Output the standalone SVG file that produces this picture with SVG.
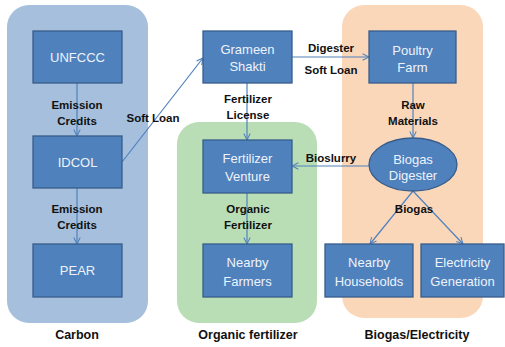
<svg xmlns="http://www.w3.org/2000/svg" width="505" height="347" viewBox="0 0 505 347">
  <defs>
    <marker id="arrow" viewBox="0 0 10 10" refX="9" refY="5" markerWidth="8" markerHeight="8" orient="auto" markerUnits="userSpaceOnUse">
      <path d="M1,1 L9,5 L1,9" fill="none" stroke="#4F81BD" stroke-width="1.3"/>
    </marker>
    <style>
      .node rect, .node ellipse { fill: #4F81BD; stroke: #385D8A; stroke-width: 1.3; }
      .node text { font-family: "Liberation Sans", Arial, sans-serif; font-size: 13px; fill: #EEF3FA; text-anchor: middle; }
      .lbl { font-family: "Liberation Sans", Arial, sans-serif; font-size: 11.5px; font-weight: bold; fill: #111; text-anchor: middle; }
      .panel-title { font-family: "Liberation Sans", Arial, sans-serif; font-size: 12.5px; font-weight: bold; fill: #111; text-anchor: middle; }
      .conn line { stroke: #4F81BD; stroke-width: 1.2; marker-end: url(#arrow); }
    </style>
  </defs>
  <rect width="505" height="347" fill="#ffffff"/>

  <!-- background panels -->
  <g id="panel-carbon">
    <rect x="7" y="5" width="141" height="318" rx="22" fill="#A5BFDD"/>
    <text class="panel-title" x="77" y="339">Carbon</text>
  </g>
  <g id="panel-organic">
    <rect x="177" y="122" width="140" height="201" rx="22" fill="#B9DEB5"/>
    <text class="panel-title" x="248" y="339" font-size="11.5">Organic fertilizer</text>
  </g>
  <g id="panel-biogas">
    <rect x="342" y="5" width="141" height="313" rx="22" fill="#FBD7BA"/>
    <text class="panel-title" x="417" y="339" font-size="11.5">Biogas/Electricity</text>
  </g>

  <!-- connectors -->
  <g id="connectors" class="conn">
    <line x1="77" y1="83" x2="77" y2="136"/>
    <line x1="77" y1="188" x2="77" y2="244"/>
    <line x1="122" y1="162" x2="203" y2="58"/>
    <line x1="292" y1="57" x2="369" y2="57"/>
    <line x1="247" y1="83" x2="247" y2="140"/>
    <line x1="247" y1="193" x2="247" y2="244"/>
    <line x1="413" y1="83" x2="413" y2="138"/>
    <line x1="369" y1="166" x2="292" y2="166"/>
    <line x1="413" y1="191" x2="370" y2="244"/>
    <line x1="413" y1="191" x2="463" y2="244"/>
  </g>

  <!-- connector labels -->
  <g id="labels">
    <text class="lbl" x="77" y="109">Emission</text>
    <text class="lbl" x="77" y="125">Credits</text>
    <text class="lbl" x="77" y="213">Emission</text>
    <text class="lbl" x="77" y="229">Credits</text>
    <text class="lbl" x="153" y="122">Soft Loan</text>
    <text class="lbl" x="331" y="52">Digester</text>
    <text class="lbl" x="331" y="74">Soft Loan</text>
    <text class="lbl" x="248" y="103">Fertilizer</text>
    <text class="lbl" x="248" y="119">License</text>
    <text class="lbl" x="331" y="162">Bioslurry</text>
    <text class="lbl" x="248" y="213">Organic</text>
    <text class="lbl" x="248" y="229">Fertilizer</text>
    <text class="lbl" x="413" y="109">Raw</text>
    <text class="lbl" x="413" y="125">Materials</text>
    <text class="lbl" x="414" y="213">Biogas</text>
  </g>

  <!-- nodes -->
  <g id="unfccc" class="node">
    <rect x="33" y="31" width="89" height="52"/>
    <text x="77.5" y="62">UNFCCC</text>
  </g>
  <g id="idcol" class="node">
    <rect x="33" y="136" width="89" height="52"/>
    <text x="77.5" y="167">IDCOL</text>
  </g>
  <g id="pear" class="node">
    <rect x="33" y="244" width="89" height="53"/>
    <text x="77.5" y="275">PEAR</text>
  </g>
  <g id="grameen-shakti" class="node">
    <rect x="203" y="31" width="89" height="52"/>
    <text x="247.5" y="54">Grameen</text>
    <text x="247.5" y="71">Shakti</text>
  </g>
  <g id="fertilizer-venture" class="node">
    <rect x="203" y="140" width="89" height="53"/>
    <text x="247.5" y="163">Fertilizer</text>
    <text x="247.5" y="181">Venture</text>
  </g>
  <g id="nearby-farmers" class="node">
    <rect x="203" y="244" width="89" height="53"/>
    <text x="247.5" y="267">Nearby</text>
    <text x="247.5" y="286">Farmers</text>
  </g>
  <g id="poultry-farm" class="node">
    <rect x="369" y="31" width="87" height="52"/>
    <text x="412.5" y="55">Poultry</text>
    <text x="412.5" y="72">Farm</text>
  </g>
  <g id="biogas-digester" class="node">
    <ellipse cx="413" cy="164.5" rx="44" ry="26.5"/>
    <text x="413" y="164">Biogas</text>
    <text x="413" y="180">Digester</text>
  </g>
  <g id="nearby-households" class="node">
    <rect x="325" y="244" width="88" height="53"/>
    <text x="369" y="267">Nearby</text>
    <text x="369" y="286">Households</text>
  </g>
  <g id="electricity-generation" class="node">
    <rect x="421" y="244" width="83" height="53"/>
    <text x="462.5" y="267">Electricity</text>
    <text x="462.5" y="286">Generation</text>
  </g>
</svg>
